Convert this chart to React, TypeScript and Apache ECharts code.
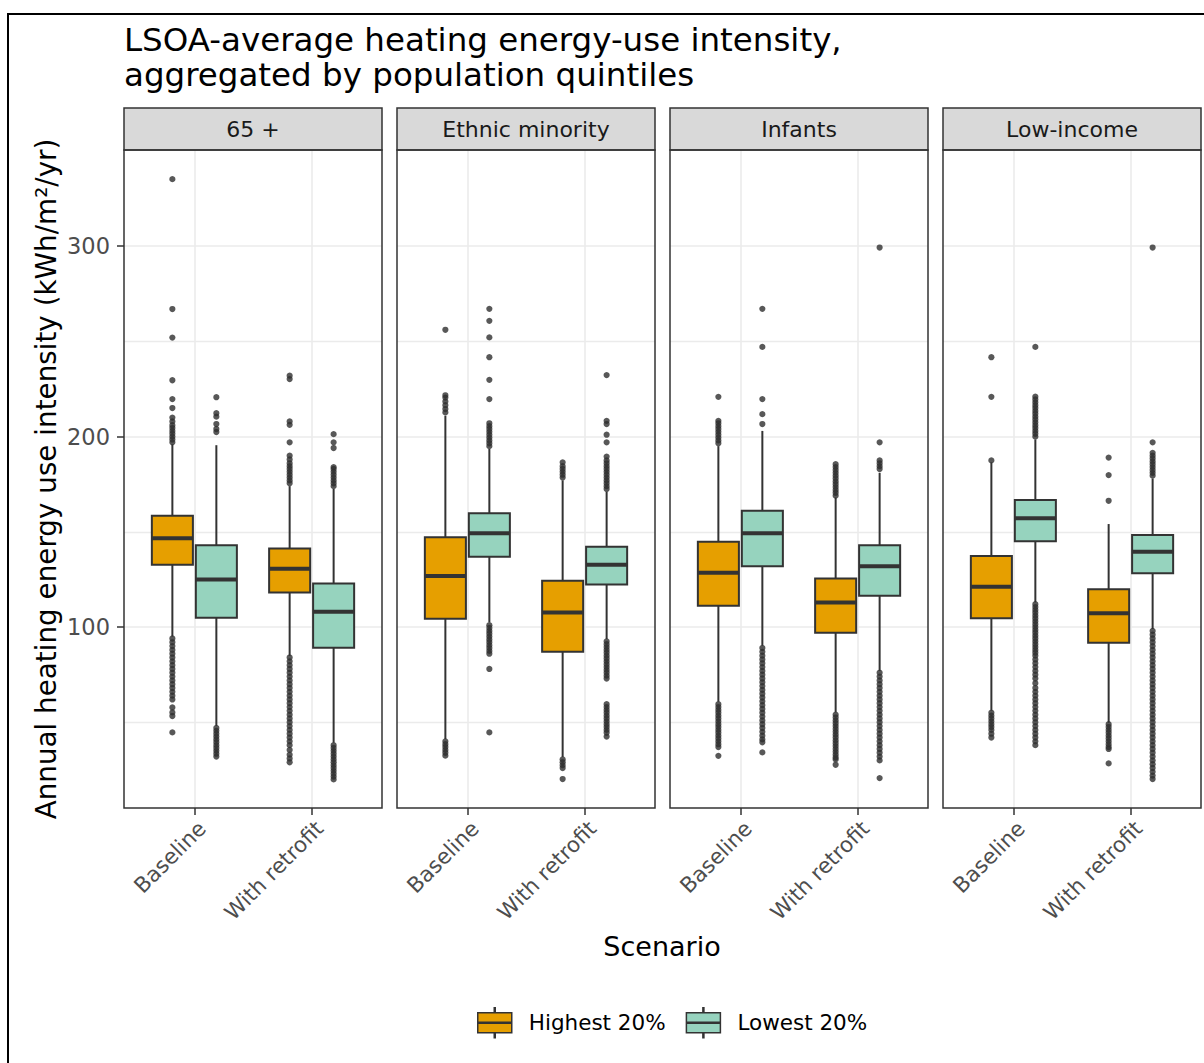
import React, { useEffect, useRef } from 'react';
import * as echarts from 'echarts';

const FACETS = ['65 +', 'Ethnic minority', 'Infants', 'Low-income'];
const SCENARIOS = ['Baseline', 'With retrofit'];
const GROUPS = ['Highest 20%', 'Lowest 20%'];
const Y_TICKS = [100, 200, 300];
const Y_GRID_MINOR = [50, 150, 250];
const X_TICKS = [1, 2];

// [lower whisker, Q1, median, Q3, upper whisker] per facet -> [Baseline, With retrofit]
const HIGHEST_STATS = [
  [[95, 132.7, 146.6, 158.4, 196], [84.9, 118.2, 130.6, 141.3, 174]],
  [[41.2, 104.4, 126.8, 147.1, 211], [31.8, 87, 107.7, 124.3, 177]],
  [[60.8, 111.2, 128.5, 144.8, 195], [55.2, 97, 112.9, 125.5, 168]],
  [[56.1, 104.6, 121.2, 137.3, 186.5], [49.8, 91.8, 107.3, 119.9, 154.1]],
];
const LOWEST_STATS = [
  [[48.1, 104.9, 125, 142.9, 195.5], [39.3, 89.1, 108, 122.9, 172.5]],
  [[102.5, 136.9, 149.2, 159.8, 193.5], [93.7, 122.4, 132.7, 142.2, 171]],
  [[90.2, 132, 149.2, 161.1, 203], [77, 116.4, 131.9, 143, 181]],
  [[113, 145.1, 157.2, 166.7, 198.5], [99, 128.3, 139.5, 148.3, 178]],
];

// outliers per facet & group -> [Baseline, With retrofit]
const OUT_65_HIGH = [
  [197, 198.5, 200, 201.5, 203, 204.5, 206, 208, 210, 215, 219.7, 229.6, 252, 267, 335.2,
    94, 92, 90, 88, 86, 84, 82, 80, 78, 76, 74, 72, 70, 68, 66, 64, 62, 57.8, 55.2, 53.3, 44.7],
  [175.5, 177, 178.5, 180, 181.5, 183, 184.5, 186, 188, 190, 197, 206.2, 208, 230.2, 232,
    84, 82, 80, 78, 76, 74, 72, 70, 68, 66, 64, 62, 60, 58, 56, 54, 52, 50, 48, 46, 44, 42, 40, 38, 35.5, 33, 31, 29],
];
const OUT_65_LOW = [
  [202.4, 204, 206.6, 210.5, 212.3, 220.7,
    47, 45.5, 44, 42.5, 41, 39.5, 38, 36.5, 35, 33.5, 32],
  [174, 175.5, 177, 178.5, 180, 181.5, 183, 184, 194, 197, 201.3,
    38, 36.5, 35, 33.5, 32, 30.5, 29, 27.5, 26, 24.5, 23, 21.5, 20],
];
const OUT_ETH_HIGH = [
  [212.7, 214.5, 216.5, 218.5, 220.5, 221.7, 256.1,
    40, 38.5, 37, 35.5, 34, 32.5],
  [178.5, 180, 181.5, 183, 184.5, 186.5,
    30.5, 29, 27.5, 26, 20.2],
];
const OUT_ETH_LOW = [
  [195, 196.5, 198, 199.5, 201, 202.5, 204, 205.5, 207, 219.7, 229.8, 241.7, 252.1, 260.8, 267.1,
    101, 99.5, 98, 96.5, 95, 93.5, 92, 90.5, 89, 87.5, 86, 78, 44.7],
  [172.5, 174, 175.5, 177, 178.5, 180, 181.5, 183, 184.5, 186, 187.5, 189.5, 197, 201, 206.6, 208.3, 232.3,
    92.5, 91, 89.5, 88, 86.5, 85, 83.5, 82, 80.5, 79, 77.5, 76, 74.5, 73,
    59.5, 58, 56.5, 55, 53.5, 52, 50.5, 49, 47.5, 46, 44.5, 42.5],
];
const OUT_INF_HIGH = [
  [196.5, 198, 199.5, 201, 202.5, 204, 205.5, 207, 208.3, 220.9,
    59.5, 58, 56.5, 55, 53.5, 52, 50.5, 49, 47.5, 46, 44.5, 43, 41.5, 40, 38.5, 37, 32.4],
  [169, 170.5, 172, 173.5, 175, 176.5, 178, 179.5, 181, 182.5, 184, 185.5,
    54, 52.5, 51, 49.5, 48, 46.5, 45, 43.5, 42, 40.5, 39, 37.5, 36, 34.5, 33, 31.5, 30.5, 27.7],
];
const OUT_INF_LOW = [
  [206.6, 211.8, 219.7, 247.1, 267.1,
    89, 87, 85, 83, 81, 79, 77, 75, 73, 71, 69, 67, 65, 63, 61, 59, 57, 55, 53, 51, 49, 47, 45, 43, 41, 39.5, 34.2],
  [183, 184.5, 186, 187.5, 197, 299.3,
    76, 74, 72, 70, 68, 66, 64, 62, 60, 58, 56, 54, 52, 50, 48, 46, 44, 42, 40, 38, 36, 34, 32, 30, 20.7],
];
const OUT_LOW_HIGH = [
  [187.5, 220.9, 241.7,
    55, 53.5, 52, 50.5, 49, 47.5, 46, 44, 42],
  [166.3, 179.8, 189,
    49, 47.5, 46, 44.5, 43, 41.5, 40, 38.5, 37, 36, 28.4],
];
const OUT_LOW_LOW = [
  [200, 201.5, 203, 204.5, 206, 207.5, 209, 210.5, 212, 213.5, 215, 216.5, 218, 219.5, 221, 247.1,
    112, 110.5, 109, 107.5, 106, 104.5, 103, 101.5, 100, 98.5, 97, 95.5, 94, 92.5, 91, 89.5, 88, 86.5, 85,
    83, 81, 79, 77, 75, 73, 70.5, 68, 66, 64, 62, 60, 58, 56, 54, 52, 50, 48, 46, 44, 42, 40, 38],
  [179.5, 181, 182.5, 184, 185.5, 187, 188.5, 190, 191.5, 197, 299.3,
    98, 96, 94, 92, 90, 88, 86, 84, 82, 80, 78, 76, 74, 72, 70, 68, 66, 64, 62, 60, 58, 56, 54, 52, 50,
    48, 46, 44, 42, 40, 38, 36, 34, 32, 30, 28, 26, 24, 22, 20.2],
];
const HIGHEST_OUTLIERS = [OUT_65_HIGH, OUT_ETH_HIGH, OUT_INF_HIGH, OUT_LOW_HIGH];
const LOWEST_OUTLIERS = [OUT_65_LOW, OUT_ETH_LOW, OUT_INF_LOW, OUT_LOW_LOW];

const TITLE_LINES = ['LSOA-average heating energy-use intensity,', 'aggregated by population quintiles'];
const Y_TITLE = 'Annual heating energy use intensity (kWh/m²/yr)';
const X_TITLE = 'Scenario';

// layout / style
const W = 1204;
const H = 1063;
const FONT = 'DejaVu Sans';
const PANEL_LEFTS = [124, 397, 670, 943];
const PANEL_W = 258;
const PANEL_TOP = 150;
const PANEL_H = 658;
const STRIP_H = 42;
const COLORS = ['#E69F00', '#96D3BE'];
const OUTLINE = '#333333';
const GRID_COLOR = '#ebebeb';
const BOX_WIDTH = 0.35;
const DODGE = 0.1875;
const X_MIN = 0.4;
const X_MAX = 2.6;
const Y_MIN = 5;
const Y_MAX = 350.5;

const renderBox = (_params: any, api: any) => {
  const x = api.value(0);
  const lo = api.coord([x, api.value(1)]);
  const q1 = api.coord([x, api.value(2)]);
  const md = api.coord([x, api.value(3)]);
  const q3 = api.coord([x, api.value(4)]);
  const hi = api.coord([x, api.value(5)]);
  const w = api.size([BOX_WIDTH, 0])[0];
  const fill = api.visual('color');
  return {
    type: 'group',
    children: [
      { type: 'line', shape: { x1: lo[0], y1: lo[1], x2: q1[0], y2: q1[1] }, style: { stroke: OUTLINE, lineWidth: 2 } },
      { type: 'line', shape: { x1: q3[0], y1: q3[1], x2: hi[0], y2: hi[1] }, style: { stroke: OUTLINE, lineWidth: 2 } },
      { type: 'rect', shape: { x: q3[0] - w / 2, y: q3[1], width: w, height: q1[1] - q3[1] }, style: { fill, stroke: OUTLINE, lineWidth: 2 } },
      { type: 'line', shape: { x1: md[0] - w / 2, y1: md[1], x2: md[0] + w / 2, y2: md[1] }, style: { stroke: OUTLINE, lineWidth: 4 } },
    ],
  };
};

function buildOption() {
  const grid: any[] = [];
  const xAxis: any[] = [];
  const yAxis: any[] = [];
  const series: any[] = [];
  const graphic: any[] = [];

  graphic.push({
    type: 'rect', silent: true, z: 100,
    shape: { x: 8, y: 14, width: W + 20, height: H + 20 },
    style: { fill: 'none', stroke: '#000', lineWidth: 2 },
  });

  FACETS.forEach((facet, f) => {
    const left = PANEL_LEFTS[f];
    grid.push({ left, top: PANEL_TOP, width: PANEL_W, height: PANEL_H, containLabel: false });
    xAxis.push({
      type: 'value', gridIndex: f, min: X_MIN, max: X_MAX,
      axisLine: { show: false },
      splitLine: { show: false },
      axisTick: { show: true, customValues: X_TICKS, length: 7, lineStyle: { color: OUTLINE, width: 1.5 } },
      axisLabel: {
        customValues: X_TICKS, rotate: 45, margin: 9, fontSize: 21.5, color: '#4d4d4d', fontFamily: FONT,
        verticalAlign: 'top',
        formatter: (v: number) => (Math.abs(v - Math.round(v)) < 1e-6 && SCENARIOS[Math.round(v) - 1]) || '',
      },
    });
    yAxis.push({
      type: 'value', gridIndex: f, min: Y_MIN, max: Y_MAX,
      axisLine: { show: false },
      splitLine: { show: false },
      axisTick: { show: f === 0, customValues: Y_TICKS, length: 7, lineStyle: { color: OUTLINE, width: 1.5 } },
      axisLabel: {
        show: f === 0, customValues: Y_TICKS, margin: 14, fontSize: 22.5, color: '#4d4d4d', fontFamily: FONT,
        formatter: (v: number) => (Y_TICKS.includes(v) ? String(v) : ''),
      },
      name: f === 0 ? Y_TITLE : '',
      nameLocation: 'middle',
      nameRotate: 90,
      nameGap: 63,
      nameTextStyle: { fontSize: 27.8, color: '#000', fontFamily: FONT, lineHeight: 30 },
    });

    series.push({
      type: 'line', xAxisIndex: f, yAxisIndex: f, data: [], silent: true, z: 1,
      markLine: {
        silent: true, symbol: ['none', 'none'], z: 1, animation: false,
        label: { show: false },
        lineStyle: { color: GRID_COLOR, type: 'solid', width: 1.6 },
        data: [
          ...Y_GRID_MINOR.map((v) => ({ yAxis: v, lineStyle: { color: GRID_COLOR, type: 'solid', width: 1.3 } })),
          ...Y_TICKS.map((v) => ({ yAxis: v, lineStyle: { color: GRID_COLOR, type: 'solid', width: 1.6 } })),
          ...X_TICKS.map((v) => ({ xAxis: v, lineStyle: { color: GRID_COLOR, type: 'solid', width: 1.6 } })),
        ],
      },
    });

    GROUPS.forEach((g, gi) => {
      const stats = gi === 0 ? HIGHEST_STATS[f] : LOWEST_STATS[f];
      const outs = gi === 0 ? HIGHEST_OUTLIERS[f] : LOWEST_OUTLIERS[f];
      const offset = gi === 0 ? -DODGE : DODGE;
      series.push({
        type: 'custom', name: g, xAxisIndex: f, yAxisIndex: f, z: 3,
        itemStyle: { color: COLORS[gi] },
        renderItem: renderBox,
        encode: { x: 0, y: [1, 2, 3, 4, 5] },
        data: stats.map((st, s) => [X_TICKS[s] + offset, ...st]),
      });
      series.push({
        type: 'scatter', name: g + ' outliers', xAxisIndex: f, yAxisIndex: f, z: 4,
        symbol: 'circle', symbolSize: 6.2,
        itemStyle: { color: '#2e2e2e' },
        data: outs.flatMap((vals, s) => vals.map((v) => [X_TICKS[s] + offset, v])),
      });
    });

    graphic.push({
      type: 'rect', silent: true, z: 50,
      shape: { x: left, y: PANEL_TOP - STRIP_H, width: PANEL_W, height: STRIP_H },
      style: { fill: '#d9d9d9', stroke: OUTLINE, lineWidth: 1.5 },
    });
    graphic.push({
      type: 'text', silent: true, z: 51,
      x: left + PANEL_W / 2, y: PANEL_TOP - STRIP_H / 2,
      style: { text: facet, fontSize: 22, fontFamily: FONT, fill: '#1a1a1a', align: 'center', verticalAlign: 'middle' },
    });
    graphic.push({
      type: 'rect', silent: true, z: 50,
      shape: { x: left, y: PANEL_TOP, width: PANEL_W, height: PANEL_H },
      style: { fill: 'none', stroke: OUTLINE, lineWidth: 1.5 },
    });
  });

  const titleStyle = { fontSize: 32.5, fontWeight: 'normal', color: '#000', fontFamily: FONT, lineHeight: 34 };

  return {
    animation: false,
    backgroundColor: '#ffffff',
    textStyle: { fontFamily: FONT },
    title: [
      { text: TITLE_LINES[0], left: 124, top: 23, padding: 0, textStyle: titleStyle },
      { text: TITLE_LINES[1], left: 124, top: 58, padding: 0, textStyle: titleStyle },
      {
        text: X_TITLE, left: 662, top: 931, padding: 0, textAlign: 'center',
        textStyle: { fontSize: 27, fontWeight: 'normal', color: '#000', fontFamily: FONT, lineHeight: 30 },
      },
    ],
    legend: {
      data: GROUPS,
      left: 477, top: 1007, padding: 0,
      orient: 'horizontal',
      selectedMode: false,
      itemWidth: 34, itemHeight: 30, itemGap: 20,
      icon: 'path://M16.5,0 h1 v5 h-1 Z M0,5 h34 v20 h-34 Z M16.5,25 h1 v5 h-1 Z M0,14.6 h34 v0.8 h-34 Z',
      itemStyle: { borderColor: OUTLINE, borderWidth: 1.5 },
      textStyle: { fontSize: 21.5, color: '#000', fontFamily: FONT, padding: [0, 0, 0, 12] },
    },
    grid, xAxis, yAxis, series, graphic,
  };
}

export default function App() {
  const ref = useRef<HTMLDivElement>(null);
  useEffect(() => {
    if (!ref.current) return;
    const chart = echarts.init(ref.current, null, { renderer: 'svg' });
    chart.setOption(buildOption() as any);
    return () => chart.dispose();
  }, []);
  return <div ref={ref} style={{ position: 'absolute', left: 0, top: 0, width: W, height: H }} />;
}
